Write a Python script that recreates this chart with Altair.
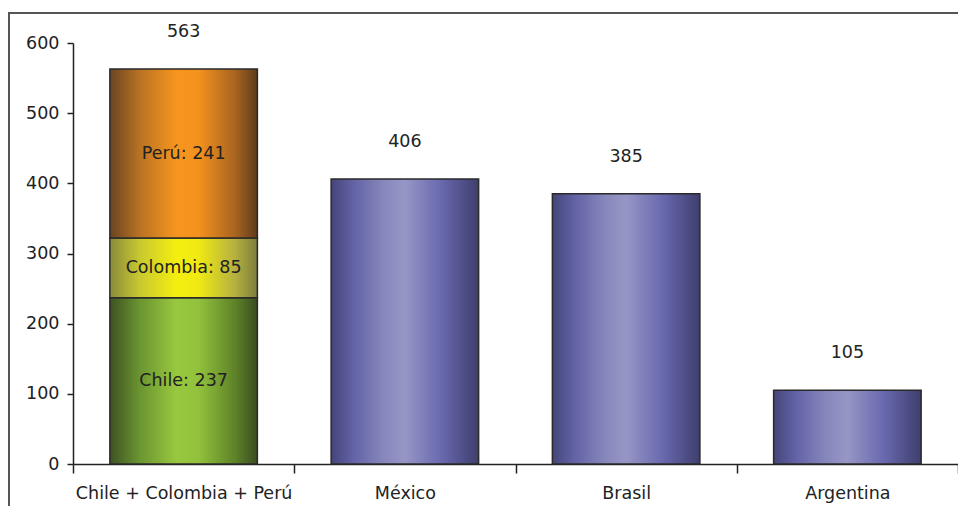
import altair as alt
import pandas as pd

categories = ["Chile + Colombia + Perú", "Chile + Colombia + Perú", "Chile + Colombia + Perú", "México", "Brasil", "Argentina"]
segments = ["Chile", "Colombia", "Perú", "México", "Brasil", "Argentina"]
values = [237, 85, 241, 406, 385, 105]
groups = ["green", "yellow", "orange", "purple", "purple", "purple"]
inner_labels = ["Chile: 237", "Colombia: 85", "Perú: 241", "", "", ""]
totals_cat = ["Chile + Colombia + Perú", "México", "Brasil", "Argentina"]
totals_val = [563, 406, 385, 105]
y_ticks = [0, 100, 200, 300, 400, 500, 600]

rows = []
base = {}
for c, s, v, g, lab in zip(categories, segments, values, groups, inner_labels):
    start = base.get(c, 0)
    rows.append({"cat": c, "seg": s, "value": v, "group": g, "start": start,
                 "end": start + v, "mid": start + v / 2, "label": lab})
    base[c] = start + v
df = pd.DataFrame(rows)
tot = pd.DataFrame({"cat": totals_cat, "total": totals_val})

FONT = "DejaVu Sans"
FS = 17.5
W = 885

def grad(stops):
    return alt.Gradient(
        gradient="linear", x1=0, x2=1, y1=0, y2=0,
        stops=[alt.GradientStop(color=c, offset=o) for o, c in stops],
    )

gradients = {
    "green": grad([(0, "#3e5222"), (0.2, "#6a9430"), (0.45, "#98c83e"), (0.6, "#92c23c"), (0.85, "#5e8228"), (1, "#3a4c20")]),
    "yellow": grad([(0, "#8a8a3c"), (0.2, "#c8c830"), (0.45, "#f4ee10"), (0.6, "#f0ea14"), (0.85, "#b4b040"), (1, "#7e7c3c")]),
    "orange": grad([(0, "#6a4420"), (0.2, "#b87224"), (0.45, "#f7951e"), (0.6, "#f4921e"), (0.85, "#a86420"), (1, "#5e3c1a")]),
    "purple": grad([(0, "#45457a"), (0.15, "#6262a6"), (0.35, "#8686bc"), (0.5, "#9696c6"), (0.75, "#6868ae"), (1, "#3e3e6e")]),
}

xscale = alt.Scale(domain=totals_cat, paddingInner=0, paddingOuter=0)
yscale = alt.Scale(domain=[0, 600], nice=False)

x_enc = alt.X("cat:N", scale=xscale, sort=totals_cat, title=None,
              axis=alt.Axis(labelAngle=0, tickBand="extent", labelFont=FONT, labelFontSize=FS,
                            labelLimit=0, labelColor="#222", labelPadding=11, tickSize=9,
                            tickColor="#222", domainColor="#222", domainWidth=1.5, tickWidth=1.5))
y_enc = alt.Y("start:Q", scale=yscale, title=None,
              axis=alt.Axis(values=y_ticks, grid=False, labelFont=FONT, labelFontSize=FS,
                            labelColor="#222", labelPadding=8, tickSize=6, tickColor="#222",
                            domainColor="#222", domainWidth=1.5, tickWidth=1.5))

layers = []
for g in ["green", "yellow", "orange", "purple"]:
    layers.append(
        alt.Chart(df).transform_filter(alt.datum.group == g)
        .mark_bar(color=gradients[g], stroke="#2a2a2a", strokeWidth=1.5,
                  width=alt.RelativeBandSize(2 / 3))
        .encode(x=x_enc, y=y_enc, y2="end:Q")
    )

inner = alt.Chart(df).transform_filter(alt.datum.label != "").mark_text(
    font=FONT, fontSize=FS, color="#222", baseline="middle"
).encode(x=alt.X("cat:N", scale=xscale, sort=totals_cat), y=alt.Y("mid:Q", scale=yscale), text="label:N")

top = alt.Chart(tot).mark_text(
    font=FONT, fontSize=FS, color="#222", baseline="middle", dy=-37
).encode(x=alt.X("cat:N", scale=xscale, sort=totals_cat), y=alt.Y("total:Q", scale=yscale), text="total:Q")

frame_top = alt.Chart(tot).mark_rule(color="#555", strokeWidth=2).encode(
    x=alt.value(-65), x2=alt.value(W), y=alt.value(-30))
frame_left = alt.Chart(tot).mark_rule(color="#555", strokeWidth=2).encode(
    x=alt.value(-64), y=alt.value(-31), y2=alt.value(470))

chart = alt.layer(*layers, inner, top, frame_top, frame_left).properties(
    width=W, height=421,
    background="white",
    autosize=alt.AutoSizeParams(type="none"),
    padding={"left": 65, "top": 35, "right": 0, "bottom": 42},
).configure_view(strokeWidth=0, stroke="transparent")

chart.save("out.html", embed_options={"renderer": "svg", "actions": False})
